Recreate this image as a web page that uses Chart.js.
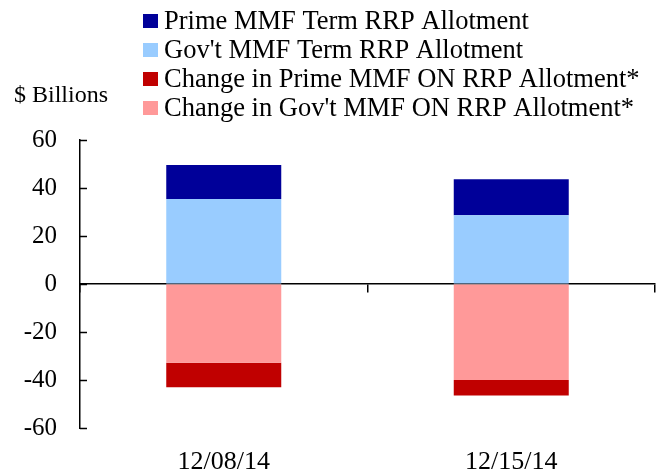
<!DOCTYPE html>
<html>
<head>
<meta charset="utf-8">
<script src="https://cdn.jsdelivr.net/npm/chart.js@4.4.1/dist/chart.umd.min.js"></script>
<style>
  body { margin: 0; background: #fff; }
  #wrap { width: 656px; height: 470px; position: relative; }
</style>
</head>
<body>
<div id="wrap"><canvas id="rrpChart"></canvas></div>
<script>
const categories = ["12/08/14", "12/15/14"];
const primeTerm = [14.2, 15.0];
const govtTerm = [35.4, 28.6];
const primeOnChange = [-10.2, -6.5];
const govtOnChange = [-32.8, -40.0];
const yTicks = { min: -60, max: 60, step: 20 };

const SERIF = '"Liberation Serif", "Times New Roman", serif';

// legend shows datasets in this order (stack order differs)
const legendOrder = [1, 0, 3, 2];

const extrasPlugin = {
  id: "extras",
  afterDraw(chart) {
    const ctx = chart.ctx;
    const area = chart.chartArea;
    const yScale = chart.scales.y;
    ctx.save();

    // tick marks on the y axis point into the plot
    ctx.strokeStyle = "#000";
    ctx.lineWidth = 1.5;
    yScale.ticks.forEach(function (t) {
      const y = Math.round(yScale.getPixelForValue(t.value)) + 0.5;
      ctx.beginPath();
      ctx.moveTo(area.left, y);
      ctx.lineTo(area.left + 7, y);
      ctx.stroke();
    });

    // legend
    ctx.textBaseline = "middle";
    ctx.textAlign = "left";
    ctx.font = "26.5px " + SERIF;
    legendOrder.forEach(function (idx, i) {
      const ds = chart.data.datasets[idx];
      const y = 21 + i * 29;
      ctx.fillStyle = ds.backgroundColor;
      ctx.fillRect(143, y - 7, 15, 14);
      ctx.fillStyle = "#000";
      ctx.fillText(ds.label, 164, y + 1);
    });

    // unit label
    ctx.font = "24px " + SERIF;
    ctx.fillText("$ Billions", 14, 96);
    ctx.restore();
  }
};

const ctx = document.getElementById("rrpChart");

new Chart(ctx.getContext("2d"), {
  type: "bar",
  data: {
    labels: categories,
    datasets: [
      { label: "Gov't MMF Term RRP Allotment", data: govtTerm, backgroundColor: "#99ccff" },
      { label: "Prime MMF Term RRP Allotment", data: primeTerm, backgroundColor: "#000099" },
      { label: "Change in Gov't MMF ON RRP Allotment*", data: govtOnChange, backgroundColor: "#ff9999" },
      { label: "Change in Prime MMF ON RRP Allotment*", data: primeOnChange, backgroundColor: "#c00000" },
    ],
  },
  options: {
    responsive: true,
    maintainAspectRatio: false,
    animation: false,
    categoryPercentage: 1.0,
    barPercentage: 0.4,
    layout: { padding: { top: 140, right: 1, left: 0, bottom: 0 } },
    plugins: {
      legend: { display: false },
      tooltip: { enabled: false },
    },
    scales: {
      x: {
        stacked: true,
        offset: true,
        position: { y: 0 },
        grid: { offset: true, drawOnChartArea: false, drawTicks: true, tickLength: 8, color: "#000", lineWidth: 1.5 },
        border: { display: true, color: "#000", width: 1.5 },
        ticks: { display: false },
      },
      x2: {
        type: "category",
        position: "bottom",
        offset: true,
        grid: { display: false },
        border: { display: false },
        ticks: { color: "#000", font: { family: SERIF, size: 26 }, padding: 11 },
        afterFit: function (scale) { scale.height = 42; },
      },
      y: {
        stacked: true,
        min: yTicks.min,
        max: yTicks.max,
        ticks: { stepSize: yTicks.step, color: "#000", font: { family: SERIF, size: 25 }, padding: 23 },
        grid: { drawOnChartArea: false, drawTicks: false },
        border: { display: true, color: "#000", width: 1.5 },
        afterFit: function (scale) { scale.width = 80; },
      },
    },
  },
  plugins: [extrasPlugin],
});
</script>
</body>
</html>
